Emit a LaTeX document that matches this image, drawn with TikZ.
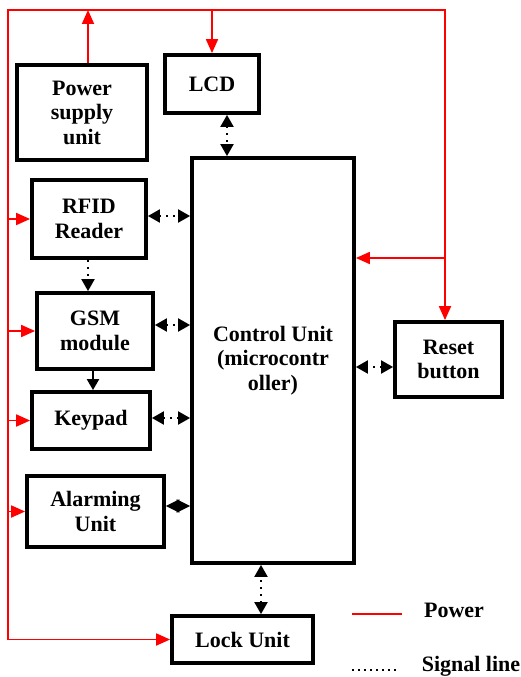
\documentclass[tikz,border=0pt]{standalone}
\usepackage{fontspec}
\setmainfont{Liberation Serif}
\usetikzlibrary{arrows.meta,positioning,calc}

\begin{document}
\begin{tikzpicture}[
  x=1pt, y=-1pt,
  blk/.style={draw, line width=3.8pt, align=center, inner sep=0pt,
    font=\fontsize{22}{24.5}\selectfont\bfseries},
  pwr/.style={draw=red, line width=1.8pt},
  pwrarr/.style={pwr, -{Triangle[length=14pt, width=12pt]}},
  sig/.style={line width=2pt, dash pattern=on 2pt off 5pt,
    {Triangle[length=12pt, width=13pt]}-{Triangle[length=12pt, width=13pt]}},
  sigone/.style={line width=2pt, dash pattern=on 2pt off 5pt,
    -{Triangle[length=12pt, width=13pt]}},
  lgd/.style={font=\fontsize{22}{24.5}\selectfont\bfseries}
]
  \useasboundingbox (0,0) rectangle (521,677);

  % blocks
  \node[blk, minimum width=162pt, minimum height=405pt] (ctrl) at (273,360.5)
    {Control Unit\\(microcontr\\oller)};
  \node[blk, minimum width=130pt, minimum height=95pt] (psu) at (82,112.5)
    {Power\\supply\\unit};
  \node[blk, minimum width=94pt, minimum height=58pt] (lcd) at (212,84) {LCD};
  \node[blk, minimum width=114pt, minimum height=78pt] (rfid) at (89,219)
    {RFID\\Reader};
  \node[blk, minimum width=116pt, minimum height=76pt] (gsm) at (95,331)
    {GSM\\module};
  \node[blk, minimum width=118pt, minimum height=57pt] (key) at (91,420.5)
    {Keypad};
  \node[blk, minimum width=137pt, minimum height=71pt] (alarm) at (95.5,511.5)
    {Alarming\\Unit};
  \node[blk, minimum width=141pt, minimum height=47pt] (lock) at (242.5,639.5)
    {Lock Unit};
  \node[blk, minimum width=107pt, minimum height=75pt] (reset) at (448.5,359.5)
    {Reset\\button};

  % power rail
  \coordinate (tl) at (8,10);
  \coordinate (tr) at (445,10);
  \draw[pwrarr] (lock.west -| tl) -- (tl) -- (tr) -- (tr |- reset.north);
  \draw[pwrarr] ([xshift=6pt]psu.north) -- ([xshift=6pt]psu.north |- tl);
  \draw[pwrarr] (lcd.north |- tl) -- (lcd.north);
  \foreach \n in {rfid,gsm,key,alarm,lock} { \draw[pwrarr] (\n.west -| tl) -- (\n.west); }
  \draw[pwrarr] (tr |- 0,258) -- (ctrl.east |- 0,258);

  % signal lines
  \draw[sig] ([xshift=15pt]lcd.south) -- ([xshift=15pt]lcd.south |- ctrl.north);
  \draw[sig] ([yshift=3pt]rfid.east) -- ([yshift=3pt]rfid.east -| ctrl.west);
  \draw[sig] ([yshift=6pt]gsm.east) -- ([yshift=6pt]gsm.east -| ctrl.west);
  \draw[sig] ([yshift=2.5pt]key.east) -- ([yshift=2.5pt]key.east -| ctrl.west);
  \draw[sig] ([yshift=-7.5pt]reset.west) -- ([yshift=-7.5pt]reset.west -| ctrl.east);
  \draw[sig] ([xshift=18.5pt]lock.north) -- ([xshift=18.5pt]lock.north |- ctrl.south);
  \draw[sigone] ([xshift=-1pt]rfid.south) -- ([xshift=-1pt]rfid.south |- gsm.north);
  \draw[line width=2pt, -{Triangle[length=11pt, width=12pt]}]
    ([xshift=-2pt]gsm.south) -- ([xshift=-2pt]gsm.south |- key.north);
  \draw[line width=2pt, {Triangle[length=13.5pt, width=13pt]}-{Triangle[length=13.5pt, width=13pt]}]
    ([yshift=5.5pt]alarm.east) -- ([yshift=5.5pt]alarm.east -| ctrl.west);

  % legend
  \node[lgd] (lp) at (454,610) {Power};
  \node[lgd] (ls) at (471,666) {Signal line};
  \coordinate (lpa) at (352,614);
  \coordinate (lsa) at (352,670);
  \draw[pwr] (lpa) -- ++(50,0);
  \draw[line width=2pt, dash pattern=on 2pt off 4pt] (lsa) -- ++(46,0);
\end{tikzpicture}
\end{document}
